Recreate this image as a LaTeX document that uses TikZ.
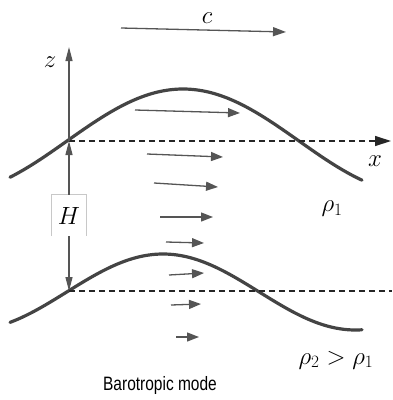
\documentclass[tikz,border=0pt]{standalone}
\usepackage{graphicx}
\usepackage{fontspec}
\newfontfamily\arialfont{Liberation Sans}
\usetikzlibrary{arrows.meta}
\definecolor{curvegray}{HTML}{444444}
\definecolor{arrgray}{HTML}{555555}
\definecolor{boxgray}{HTML}{C8C8C8}
\tikzset{
  wave/.style={draw=curvegray, line width=3.2pt, line cap=round},
  vel/.style={draw=arrgray, line width=1.3pt, -{Triangle[length=12pt,width=9pt]}},
  axisarr/.style={draw=arrgray, line width=1.3pt, -{Triangle[length=14pt,width=7pt]}},
  dashline/.style={draw=black!85, line width=1.3pt, dash pattern=on 6pt off 4pt},
  mathlbl/.style={font=\fontsize{23}{27}\selectfont, inner sep=0pt},
  boxline/.style={draw=boxgray, line width=0.9pt}
}
\begin{document}
\begin{tikzpicture}[x=1pt,y=-1pt]
\useasboundingbox (0,0) rectangle (392,400);
% key points
\coordinate (O1) at (69,141);
\coordinate (O2) at (69,291);
\coordinate (ztop) at (69,47);
\coordinate (xend) at (391,141);
\coordinate (d2end) at (392,291);
\coordinate (cs) at (121,28);
\coordinate (ce) at (286,32);
% waves
\draw[wave] plot[domain=10:362, samples=120, smooth] (\x,{141-52*cos((\x-183)/464*360)});
\draw[wave] plot[domain=10:362, samples=120, smooth] (\x,{292-38*cos((\x-163)/385*360)});
% dashed lines
\draw[dashline, -{Triangle[length=16pt,width=10pt]}] (O1) -- (xend);
\draw[dashline] (O2) -- (d2end);
% H box
\node[mathlbl, minimum width=34pt, minimum height=41pt] (H) at (69,215.5) {$H$};
\draw[boxline] (H.south west) -- (H.north west) -- (H.north east) -- (H.south east);
% vertical arrows
\draw[axisarr] (H.north) -- (O1);
\draw[axisarr] (O1) -- (ztop);
\draw[axisarr] (H.south) -- (O2);
% c arrow
\draw[vel, -{Triangle[length=13pt,width=9pt]}] (cs) -- (ce);
% velocity arrows
\coordinate (a1s) at (135,110); \coordinate (a1e) at (240,113);
\coordinate (a2s) at (147,154); \coordinate (a2e) at (223,157);
\coordinate (a3s) at (154,183); \coordinate (a3e) at (218,187);
\coordinate (a4s) at (160,217); \coordinate (a4e) at (213,217);
\coordinate (a5s) at (166,242); \coordinate (a5e) at (204,243);
\coordinate (a6s) at (169,275); \coordinate (a6e) at (204,273);
\coordinate (a7s) at (171,305); \coordinate (a7e) at (201,304);
\coordinate (a8s) at (176,337); \coordinate (a8e) at (199,337);
\foreach \i in {1,...,8} {\draw[vel] (a\i s) -- (a\i e);}
% labels
\node[mathlbl] (clbl) at (207,18) {$c$};
\node[mathlbl] (zlbl) at (50,62) {$z$};
\node[mathlbl] (xlbl) at (375,161) {$x$};
\node[mathlbl] (rho1) at (332,209) {$\rho_1$};
\node[mathlbl] (rho21) at (336,360) {$\rho_2>\rho_1$};
\node[font=\arialfont\fontsize{15.5}{18}\selectfont, inner sep=0pt] (cap) at (160,385) {\scalebox{1}[1.25]{Barotropic mode}};
\end{tikzpicture}
\end{document}
